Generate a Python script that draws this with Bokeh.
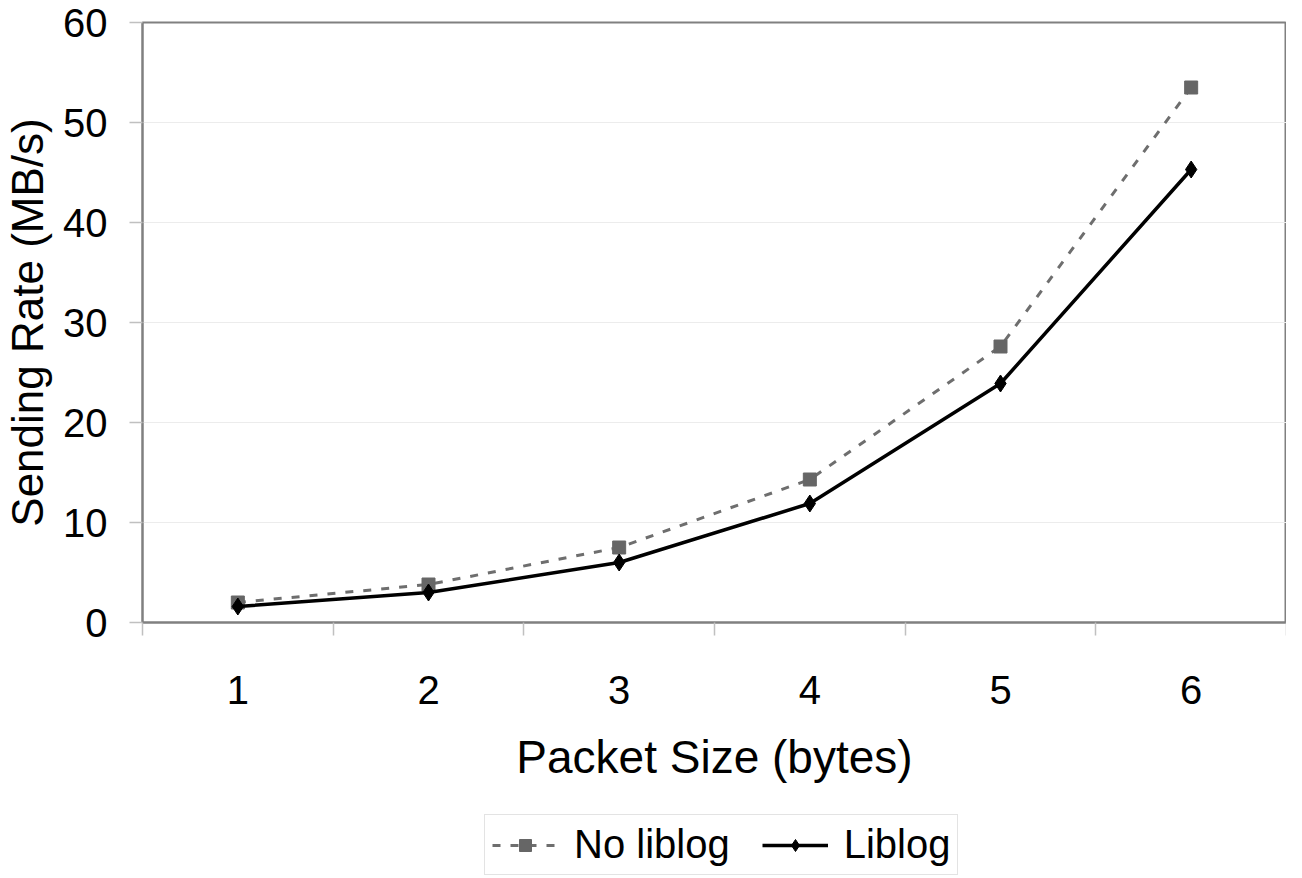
from bokeh.plotting import figure
from bokeh.layouts import column
from bokeh.models import FixedTicker, Range1d, Legend, LegendItem, ColumnDataSource
from bokeh.embed import file_html
from bokeh.resources import INLINE

categories = [1, 2, 3, 4, 5, 6]
category_labels = ["1", "2", "3", "4", "5", "6"]
no_liblog = [2.0, 3.8, 7.5, 14.3, 27.6, 53.5]
liblog = [1.6, 3.0, 6.0, 11.9, 23.9, 45.3]
y_ticks = [0, 10, 20, 30, 40, 50, 60]

FONT = "Liberation Sans"
A_STYLE = dict(line_color="#6e6e6e", line_width=3, line_dash="8 10")
A_MARK = dict(marker="square", size=13, fill_color="#666666", line_color="#666666")
B_STYLE = dict(line_color="black", line_width=3.5)
B_MARK = dict(marker="diamond", size=17, fill_color="black", line_color="black")

src = ColumnDataSource(dict(x=categories, a=no_liblog, b=liblog))

p = figure(width=1286, height=800, output_backend="svg", toolbar_location=None,
           x_range=Range1d(0.5, 6.5), y_range=Range1d(0, 60),
           min_border_left=135, min_border_right=0, min_border_top=22, min_border_bottom=178)

p.outline_line_color = "#808080"
p.outline_line_width = 2
p.background_fill_color = "white"
p.border_fill_color = "white"

p.xgrid.grid_line_color = None
p.ygrid.grid_line_color = "#ececec"
p.ygrid.grid_line_width = 1

xa = p.xaxis[0]
xa.ticker = FixedTicker(ticks=categories, minor_ticks=[c - 0.5 for c in categories] + [categories[-1] + 0.5])
xa.major_label_overrides = {c: l for c, l in zip(categories, category_labels)}
xa.major_tick_line_color = None
xa.major_tick_out = 0
xa.major_tick_in = 0
xa.minor_tick_out = 13
xa.minor_tick_in = 0
xa.minor_tick_line_color = "#c0c0c0"
xa.minor_tick_line_width = 1.5
xa.axis_line_color = "#808080"
xa.axis_line_width = 2
xa.major_label_standoff = 40
xa.major_label_text_font = FONT
xa.major_label_text_font_size = "40px"
xa.major_label_text_color = "black"
xa.axis_label = "Packet Size (bytes)"
xa.axis_label_text_font = FONT
xa.axis_label_text_font_size = "46px"
xa.axis_label_text_font_style = "normal"
xa.axis_label_text_color = "black"
xa.axis_label_standoff = 24

ya = p.yaxis[0]
ya.ticker = FixedTicker(ticks=y_ticks)
ya.major_tick_out = 13
ya.major_tick_in = 0
ya.major_tick_line_color = "#c0c0c0"
ya.major_tick_line_width = 1.5
ya.minor_tick_line_color = None
ya.axis_line_color = "#808080"
ya.axis_line_width = 2
ya.major_label_standoff = 22
ya.major_label_text_font = FONT
ya.major_label_text_font_size = "40px"
ya.major_label_text_color = "black"
ya.axis_label = "Sending Rate (MB/s)"
ya.axis_label_text_font = FONT
ya.axis_label_text_font_size = "44px"
ya.axis_label_text_font_style = "normal"
ya.axis_label_text_color = "black"
ya.axis_label_standoff = 8

p.line("x", "a", source=src, **A_STYLE)
p.scatter("x", "a", source=src, **A_MARK)
p.line("x", "b", source=src, **B_STYLE)
p.scatter("x", "b", source=src, **B_MARK)

# legend strip below the chart (its renderers lie outside its ranges, only the key shows)
lg = figure(width=1286, height=78, output_backend="svg", toolbar_location=None,
            x_range=Range1d(-20, -10), y_range=Range1d(-20, -10),
            x_axis_location=None, y_axis_location=None,
            min_border_left=0, min_border_right=0, min_border_top=0, min_border_bottom=0)
lg.outline_line_color = None
lg.grid.grid_line_color = None
lg.background_fill_color = "white"
lg.border_fill_color = "white"
la = lg.line("x", "a", source=src, **A_STYLE)
ma = lg.scatter("x", "a", source=src, **A_MARK)
lb = lg.line("x", "b", source=src, **B_STYLE)
mb = lg.scatter("x", "b", source=src, **B_MARK)

legend = Legend(items=[LegendItem(label="No liblog", renderers=[la, ma]),
                       LegendItem(label="Liblog", renderers=[lb, mb])],
                orientation="horizontal", location=(342, 3))
legend.label_text_font = FONT
legend.label_text_font_size = "40px"
legend.label_text_color = "black"
legend.label_height = 44
legend.glyph_width = 66
legend.glyph_height = 30
legend.label_standoff = 16
legend.spacing = 32
legend.padding = 7
legend.margin = 0
legend.border_line_color = "#c8c8c8"
legend.border_line_width = 1.5
legend.background_fill_color = "white"
lg.add_layout(legend, "center")

layout = column(p, lg, spacing=0)
open("out.html", "w").write(file_html(layout, INLINE))
